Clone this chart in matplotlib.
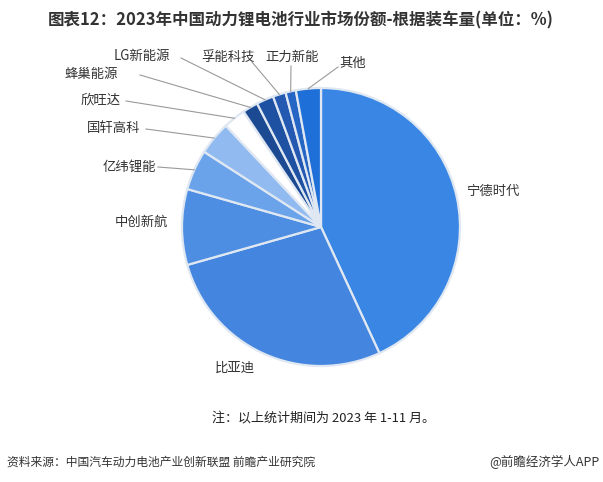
import numpy as np
import matplotlib.pyplot as plt

plt.rcParams['font.family'] = ['Noto Sans CJK SC', 'DejaVu Sans']

# 数据（单位：%）
companies = ['宁德时代', '比亚迪', '中创新航', '亿纬锂能', '国轩高科', '欣旺达',
             '蜂巢能源', 'LG新能源', '孚能科技', '正力新能', '其他']
shares = [43.1, 27.5, 8.8, 4.7, 3.9, 2.6, 1.8, 2.0, 1.5, 1.2, 2.9]
colors = ['#3a86e4', '#4485df', '#4d8ee2', '#6ba3ea', '#90baf0', '#ffffff',
          '#1b4a92', '#1f51a2', '#2459b2', '#2565c4', '#1f6fd8']

W, H = 603, 482
fig = plt.figure(figsize=(W / 100, H / 100), dpi=100)
ax = fig.add_axes([0, 0, 1, 1])
ax.set_xlim(0, W)
ax.set_ylim(0, H)
ax.set_aspect('equal')
ax.axis('off')

cx, cy, r = 321, H - 227, 139
wedges, _ = ax.pie(shares, colors=colors, startangle=90, counterclock=False,
                   center=(cx, cy), radius=r,
                   wedgeprops=dict(edgecolor='#dfe8f2', linewidth=1.6))
ax.set_xlim(0, W)
ax.set_ylim(0, H)


def edge_point(w, k=1.0):
    a = np.deg2rad((w.theta1 + w.theta2) / 2)
    return cx + r * k * np.cos(a), cy + r * k * np.sin(a)


# 标签位置（像素，顶部为原点）及引线起点
label_pos = {
    '宁德时代': (493, 191, None),
    '比亚迪': (235, 368, None),
    '中创新航': (141, 222, None),
    '亿纬锂能': (129, 167, (158, 167)),
    '国轩高科': (114, 128, (146, 129)),
    '欣旺达': (101, 100, (126, 101)),
    '蜂巢能源': (91, 74, (140, 75)),
    'LG新能源': (142, 56, (181, 58)),
    '孚能科技': (228, 57, (252, 62)),
    '正力新能': (292, 57, (291, 66)),
    '其他': (353, 63, (338, 67)),
}

for w, name in zip(wedges, companies):
    x, y, start = label_pos[name]
    ax.text(x, H - y, name, fontsize=9.6, color='#333333', ha='center', va='center')
    if start is not None:
        ex, ey = edge_point(w, 1.0)
        ax.plot([start[0], ex], [H - start[1], ey], color='#9a9a9a', lw=0.8)

fig.text(301 / W, 1 - 20 / H, '图表12：2023年中国动力锂电池行业市场份额-根据装车量(单位：%)',
         fontsize=11.9, fontweight='bold', color='#333333', ha='center', va='center')
fig.text(324 / W, 1 - 419 / H, '注：以上统计期间为 2023 年 1-11 月。',
         fontsize=9.4, color='#222222', ha='center', va='center')
fig.text(7 / W, 1 - 462 / H, '资料来源：中国汽车动力电池产业创新联盟 前瞻产业研究院',
         fontsize=8.5, color='#333333', ha='left', va='center')
fig.text(599 / W, 1 - 462 / H, '@前瞻经济学人APP',
         fontsize=9, color='#333333', ha='right', va='center')

fig.savefig('out.png', dpi=100, facecolor='white')
